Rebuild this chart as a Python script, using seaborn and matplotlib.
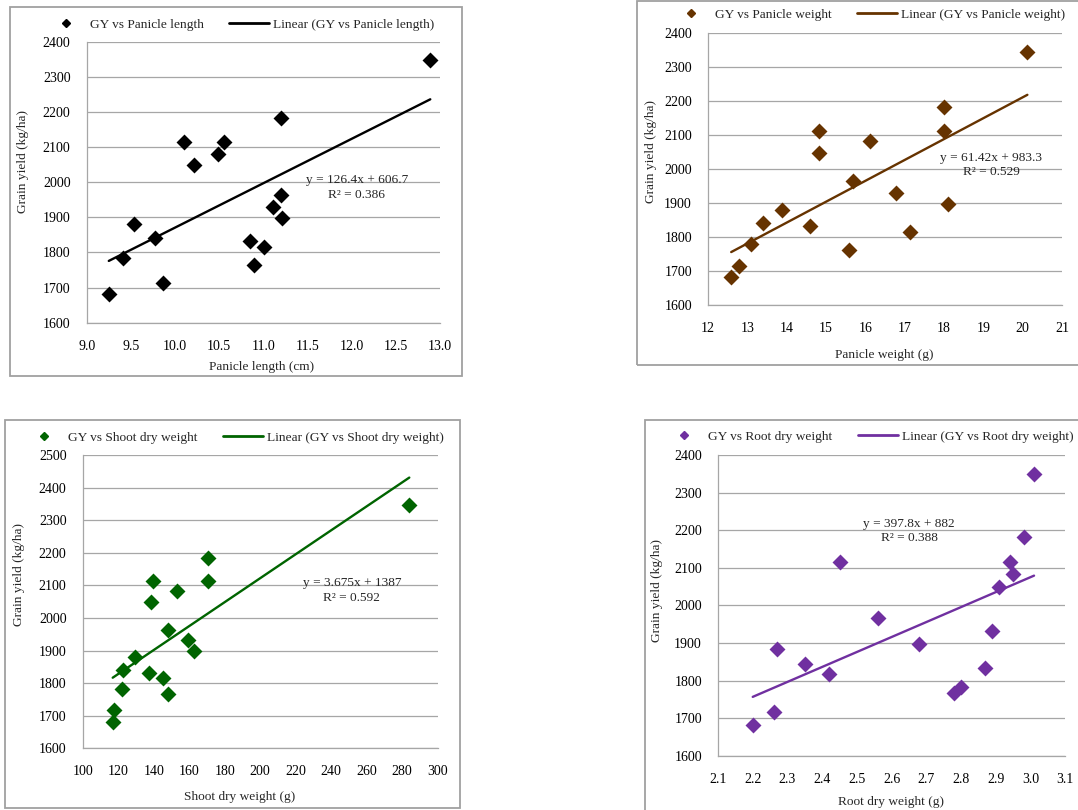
import numpy as np
import pandas as pd
import matplotlib
matplotlib.use("Agg")
import matplotlib.pyplot as plt
from matplotlib.lines import Line2D
from matplotlib.patches import Rectangle
import seaborn as sns

sns.set_theme(style='white')
plt.rcParams['font.family'] = ['Liberation Serif', 'DejaVu Serif']

# grain yield (kg/ha), same plots in each panel
gy_length = [1682, 1783, 1882, 1841, 1714, 2114, 2049, 2081, 2114, 1833, 1763,
             1815, 1930, 1963, 2183, 1897, 2348]
panicle_length = [9.25, 9.41, 9.54, 9.77, 9.86, 10.10, 10.21, 10.49, 10.56, 10.85,
                  10.89, 11.01, 11.11, 11.20, 11.20, 11.21, 12.89]

gy_pw = [1682, 1716, 1780, 1841, 1880, 1832, 2114, 2048, 1764, 1966, 2082, 1931,
         1815, 2183, 2114, 1898, 2346]
panicle_weight = [12.59, 12.79, 13.10, 13.40, 13.88, 14.60, 14.81, 14.81, 15.59,
                  15.69, 16.11, 16.79, 17.13, 18.00, 18.00, 18.10, 20.12]

gy_shoot = [1682, 1718, 1782, 1840, 1881, 1832, 2050, 2114, 1815, 1963, 1767,
            2083, 1932, 1900, 2183, 2114, 2347]
shoot_dw = [116.9, 117.8, 122.3, 122.9, 129.5, 137.6, 138.3, 139.8, 145.4, 147.9,
            148.3, 153.0, 159.5, 162.9, 170.8, 170.8, 284.0]

gy_root = [1682, 1716, 1884, 1844, 1817, 2116, 1968, 1899, 1768, 1784, 1833,
           1933, 2050, 2116, 2083, 2181, 2349]
root_dw = [2.20, 2.26, 2.27, 2.35, 2.42, 2.45, 2.56, 2.68, 2.78, 2.80, 2.87,
           2.89, 2.91, 2.94, 2.95, 2.98, 3.01]

# trendline coefficients as printed on the chart
slopes = [126.4, 61.42, 3.675, 397.8]
intercepts = [606.7, 983.3, 1387, 882]
r2 = [0.386, 0.529, 0.592, 0.388]

names = ['Panicle length', 'Panicle weight', 'Shoot dry weight', 'Root dry weight']
xlabels = ['Panicle length (cm)', 'Panicle weight (g)', 'Shoot dry weight (g)', 'Root dry weight (g)']
colors = ['black', '#663300', '#006400', '#7030A0']

W, H = 1078, 810
fig = plt.figure(figsize=(W / 100, H / 100), dpi=100)

def px_axes(x0, y0, x1, y1):
    return fig.add_axes([x0 / W, 1 - y1 / H, (x1 - x0) / W, (y1 - y0) / H])

def frame(x0, y0, x1, y1):
    fig.patches.append(Rectangle((x0 / W, 1 - y1 / H), (x1 - x0) / W, (y1 - y0) / H,
                                 transform=fig.transFigure, fill=False,
                                 edgecolor='#a0a0a0', lw=1.3))

frame(10, 7, 462, 376)
frame(637, 1, 1090, 365)
frame(5, 420, 460, 808)
frame(645, 420, 1090, 830)

panels = [
    dict(x=panicle_length, y=gy_length, box=(86.7, 41.7, 440, 322.7),
         xlim=(9, 13), xt=np.arange(9, 13.01, 0.5), fmt='{:.1f}', ylim=(1600, 2400),
         eq=(0.765, 0.481), lab_y=(-0.18, 0.572), lab_x=(0.496, -0.158), leg=(240, 25)),
    dict(x=panicle_weight, y=gy_pw, box=(708, 33.3, 1062, 305.3),
         xlim=(12, 21), xt=np.arange(12, 22, 1), fmt='{:.0f}', ylim=(1600, 2400),
         eq=(0.80, 0.516), lab_y=(-0.162, 0.564), lab_x=(0.499, -0.183), leg=(868, 15)),
    dict(x=shoot_dw, y=gy_shoot, box=(82.7, 455, 437.7, 748.3),
         xlim=(100, 300), xt=np.arange(100, 301, 20), fmt='{:.0f}', ylim=(1600, 2500),
         eq=(0.758, 0.537), lab_y=(-0.179, 0.594), lab_x=(0.441, -0.165), leg=(234, 437.7)),
    dict(x=root_dw, y=gy_root, box=(718, 455, 1065.3, 756),
         xlim=(2.1, 3.1), xt=np.arange(2.1, 3.11, 0.1), fmt='{:.1f}', ylim=(1600, 2400),
         eq=(0.55, 0.748), lab_y=(-0.175, 0.549), lab_x=(0.497, -0.152), leg=(869, 436.7)),
]

grid_c = '#a6a6a6'
for i, p in enumerate(panels):
    ax = px_axes(*p['box'])
    c = colors[i]
    df = pd.DataFrame({'x': p['x'], 'y': p['y']})
    sns.scatterplot(data=df, x='x', y='y', marker='D', s=66, color=c,
                    edgecolor=c, linewidth=0, ax=ax, zorder=3)
    xs = np.array([df['x'].min(), df['x'].max()])
    fit = pd.DataFrame({'x': xs, 'y': slopes[i] * xs + intercepts[i]})
    sns.lineplot(data=fit, x='x', y='y', color=c, lw=1.7, ax=ax, zorder=4)

    ax.set_xlim(*p['xlim'])
    ax.set_ylim(*p['ylim'])
    ax.set_xticks(p['xt'])
    ax.set_xticklabels([p['fmt'].format(v) for v in p['xt']])
    ax.set_yticks(np.arange(p['ylim'][0], p['ylim'][1] + 1, 100))
    ax.yaxis.grid(True, color=grid_c, lw=0.9)
    ax.set_axisbelow(True)
    for s in ['top', 'right']:
        ax.spines[s].set_visible(False)
    for s in ['left', 'bottom']:
        ax.spines[s].set_color(grid_c)
        ax.spines[s].set_linewidth(0.9)
    ax.tick_params(axis='both', which='major', direction='out', length=3.6,
                   width=0.9, color=grid_c, labelsize=10, labelcolor='black')
    ax.tick_params(axis='y', pad=8)
    ax.tick_params(axis='x', pad=8.5)

    ax.set_ylabel('Grain yield (kg/ha)', fontsize=9.6)
    ax.yaxis.set_label_coords(*p['lab_y'])
    ax.yaxis.label.set_verticalalignment('center')
    ax.set_xlabel(xlabels[i], fontsize=9.6)
    ax.xaxis.set_label_coords(*p['lab_x'])
    ax.xaxis.label.set_verticalalignment('center')

    ax.text(p['eq'][0], p['eq'][1],
            f'y = {slopes[i]:g}x + {intercepts[i]:g}\nR² = {r2[i]:.3f}',
            transform=ax.transAxes, ha='center', va='center',
            multialignment='center', fontsize=9.6, linespacing=1.3, zorder=5)

    handles = [Line2D([], [], marker='D', ls='', ms=3.8, color=c),
               Line2D([], [], color=c, lw=2)]
    labels = [f'GY vs {names[i]}', f'Linear (GY vs {names[i]})']
    ax.legend(handles, labels, loc='center', ncol=2, frameon=False, fontsize=9.6,
              handlelength=3, handletextpad=0.3, columnspacing=1.9,
              bbox_to_anchor=(p['leg'][0] / W, 1 - p['leg'][1] / H),
              bbox_transform=fig.transFigure)

fig.savefig('out.png', dpi=100)
